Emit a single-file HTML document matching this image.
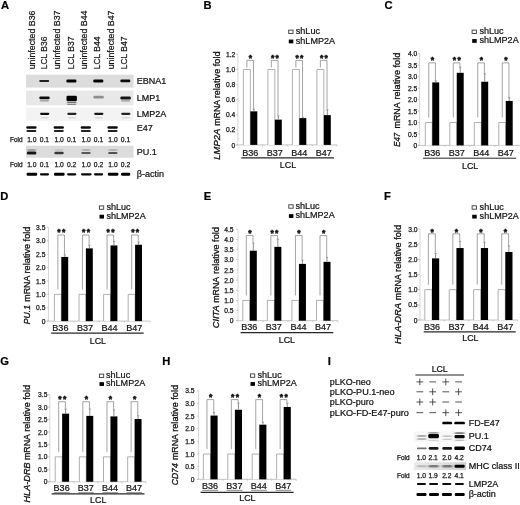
<!DOCTYPE html>
<html><head><meta charset="utf-8"><title>Figure</title>
<style>
html,body{margin:0;padding:0;background:#fff;}
body{width:520px;height:505px;overflow:hidden;font-family:"Liberation Sans",sans-serif;}
svg{display:block;font-family:"Liberation Sans",sans-serif;filter:blur(0.3px);}
svg text{stroke:#111;stroke-width:0.22px;}
svg text.sm{stroke-width:0.25px;}
svg text.yt{stroke-width:0.3px;}
svg text.st{stroke-width:0.5px;stroke-linejoin:round;}
</style></head><body>
<svg width="520" height="505" viewBox="0 0 520 505">
<rect x="0" y="0" width="520" height="505" fill="#fff"/>
<defs>
<filter id="b1" x="-30%" y="-150%" width="160%" height="400%"><feGaussianBlur stdDeviation="0.65 0.65"/></filter>
<filter id="b2" x="-30%" y="-150%" width="160%" height="400%"><feGaussianBlur stdDeviation="0.8 0.65"/></filter>
</defs>
<rect x="288.70" y="30.10" width="4.30" height="3.40" fill="#fff" stroke="#3a3a3a" stroke-width="0.9" />
<rect x="288.80" y="39.55" width="4.50" height="3.80" fill="#000" stroke="none" stroke-width="0.6" />
<text x="295.80" y="34.00" font-size="9.3" text-anchor="start" font-weight="normal" font-style="normal" fill="#111" textLength="24.2" lengthAdjust="spacingAndGlyphs">shLuc</text>
<text x="295.80" y="43.80" font-size="9.3" text-anchor="start" font-weight="normal" font-style="normal" fill="#111" textLength="39.3" lengthAdjust="spacingAndGlyphs">shLMP2A</text>
<line x1="237.90" y1="54.40" x2="237.90" y2="144.90" stroke="#cdcdcd" stroke-width="0.8"/>
<line x1="236.10" y1="144.90" x2="337.00" y2="144.90" stroke="#b4b4b4" stroke-width="0.8"/>
<line x1="236.10" y1="144.90" x2="237.90" y2="144.90" stroke="#b4b4b4" stroke-width="0.7"/>
<text class="sm" x="235.20" y="147.50" font-size="6.7" text-anchor="end" font-weight="normal" font-style="normal" fill="#181818" >0</text>
<line x1="236.10" y1="129.82" x2="237.90" y2="129.82" stroke="#b4b4b4" stroke-width="0.7"/>
<text class="sm" x="235.20" y="132.42" font-size="6.7" text-anchor="end" font-weight="normal" font-style="normal" fill="#181818" >0.2</text>
<line x1="236.10" y1="114.73" x2="237.90" y2="114.73" stroke="#b4b4b4" stroke-width="0.7"/>
<text class="sm" x="235.20" y="117.33" font-size="6.7" text-anchor="end" font-weight="normal" font-style="normal" fill="#181818" >0.4</text>
<line x1="236.10" y1="99.65" x2="237.90" y2="99.65" stroke="#b4b4b4" stroke-width="0.7"/>
<text class="sm" x="235.20" y="102.25" font-size="6.7" text-anchor="end" font-weight="normal" font-style="normal" fill="#181818" >0.6</text>
<line x1="236.10" y1="84.57" x2="237.90" y2="84.57" stroke="#b4b4b4" stroke-width="0.7"/>
<text class="sm" x="235.20" y="87.17" font-size="6.7" text-anchor="end" font-weight="normal" font-style="normal" fill="#181818" >0.8</text>
<line x1="236.10" y1="69.48" x2="237.90" y2="69.48" stroke="#b4b4b4" stroke-width="0.7"/>
<text class="sm" x="235.20" y="72.08" font-size="6.7" text-anchor="end" font-weight="normal" font-style="normal" fill="#181818" >1.0</text>
<line x1="236.10" y1="54.40" x2="237.90" y2="54.40" stroke="#b4b4b4" stroke-width="0.7"/>
<text class="sm" x="235.20" y="57.00" font-size="6.7" text-anchor="end" font-weight="normal" font-style="normal" fill="#181818" >1.2</text>
<line x1="262.68" y1="144.90" x2="262.68" y2="146.40" stroke="#b4b4b4" stroke-width="0.7"/>
<line x1="287.45" y1="144.90" x2="287.45" y2="146.40" stroke="#b4b4b4" stroke-width="0.7"/>
<line x1="312.23" y1="144.90" x2="312.23" y2="146.40" stroke="#b4b4b4" stroke-width="0.7"/>
<line x1="337.00" y1="144.90" x2="337.00" y2="146.40" stroke="#b4b4b4" stroke-width="0.7"/>
<path d="M243.40,144.90 V69.48 H250.35 V144.90" fill="#fff" stroke="#9c9c9c" stroke-width="0.8"/>
<rect x="250.35" y="111.34" width="6.95" height="33.56" fill="#000" stroke="none" stroke-width="0.6" />
<line x1="253.83" y1="111.34" x2="253.83" y2="109.08" stroke="#666" stroke-width="0.75"/>
<line x1="252.73" y1="109.08" x2="254.93" y2="109.08" stroke="#777" stroke-width="0.7"/>
<polyline points="246.88,67.48 246.88,60.40 253.53,60.40 253.53,108.58" fill="none" stroke="#7d7d7d" stroke-width="0.7"/>
<text x="250.40" y="60.50" font-size="8.5" text-anchor="middle" font-weight="bold" font-style="normal" fill="#111" class="st">*</text>
<text x="250.35" y="155.60" font-size="9.2" text-anchor="middle" font-weight="normal" font-style="normal" fill="#111" textLength="16.1" lengthAdjust="spacingAndGlyphs">B36</text>
<path d="M267.90,144.90 V69.48 H274.85 V144.90" fill="#fff" stroke="#9c9c9c" stroke-width="0.8"/>
<rect x="274.85" y="119.64" width="6.95" height="25.26" fill="#000" stroke="none" stroke-width="0.6" />
<line x1="278.32" y1="119.64" x2="278.32" y2="115.86" stroke="#666" stroke-width="0.75"/>
<line x1="277.22" y1="115.86" x2="279.43" y2="115.86" stroke="#777" stroke-width="0.7"/>
<polyline points="271.38,67.48 271.38,60.40 278.02,60.40 278.02,115.36" fill="none" stroke="#7d7d7d" stroke-width="0.7"/>
<text x="275.60" y="60.50" font-size="8.5" text-anchor="middle" font-weight="bold" font-style="normal" fill="#111" class="st" letter-spacing="1.4">**</text>
<text x="274.85" y="155.60" font-size="9.2" text-anchor="middle" font-weight="normal" font-style="normal" fill="#111" textLength="16.1" lengthAdjust="spacingAndGlyphs">B37</text>
<path d="M292.40,144.90 V69.48 H299.35 V144.90" fill="#fff" stroke="#9c9c9c" stroke-width="0.8"/>
<rect x="299.35" y="118.13" width="6.95" height="26.77" fill="#000" stroke="none" stroke-width="0.6" />
<line x1="302.82" y1="118.13" x2="302.82" y2="117.22" stroke="#666" stroke-width="0.75"/>
<line x1="301.72" y1="117.22" x2="303.93" y2="117.22" stroke="#777" stroke-width="0.7"/>
<polyline points="295.88,67.48 295.88,60.40 302.52,60.40 302.52,116.72" fill="none" stroke="#7d7d7d" stroke-width="0.7"/>
<text x="300.10" y="60.50" font-size="8.5" text-anchor="middle" font-weight="bold" font-style="normal" fill="#111" class="st" letter-spacing="1.4">**</text>
<text x="299.35" y="155.60" font-size="9.2" text-anchor="middle" font-weight="normal" font-style="normal" fill="#111" textLength="16.1" lengthAdjust="spacingAndGlyphs">B44</text>
<path d="M316.90,144.90 V69.48 H323.85 V144.90" fill="#fff" stroke="#9c9c9c" stroke-width="0.8"/>
<rect x="323.85" y="115.11" width="6.95" height="29.79" fill="#000" stroke="none" stroke-width="0.6" />
<line x1="327.32" y1="115.11" x2="327.32" y2="109.83" stroke="#666" stroke-width="0.75"/>
<line x1="326.22" y1="109.83" x2="328.43" y2="109.83" stroke="#777" stroke-width="0.7"/>
<polyline points="320.38,67.48 320.38,60.40 327.02,60.40 327.02,109.33" fill="none" stroke="#7d7d7d" stroke-width="0.7"/>
<text x="324.60" y="60.50" font-size="8.5" text-anchor="middle" font-weight="bold" font-style="normal" fill="#111" class="st" letter-spacing="1.4">**</text>
<text x="323.85" y="155.60" font-size="9.2" text-anchor="middle" font-weight="normal" font-style="normal" fill="#111" textLength="16.1" lengthAdjust="spacingAndGlyphs">B47</text>
<line x1="241.30" y1="157.90" x2="334.00" y2="157.90" stroke="#262626" stroke-width="1.35"/>
<text x="288.00" y="168.40" font-size="9.2" text-anchor="middle" font-weight="normal" font-style="normal" fill="#111" textLength="16.3" lengthAdjust="spacingAndGlyphs">LCL</text>
<text class="yt" transform="translate(220.40,128.75) rotate(-90)" font-size="9.2" text-anchor="end" fill="#111" font-style="italic" textLength="31.0" lengthAdjust="spacingAndGlyphs">LMP2A</text>
<text class="yt" transform="translate(220.40,125.85) rotate(-90)" font-size="9.2" text-anchor="start" fill="#111" textLength="26.0" lengthAdjust="spacingAndGlyphs">mRNA</text>
<text class="yt" transform="translate(220.40,98.35) rotate(-90)" font-size="9.2" text-anchor="start" fill="#111" >relative</text>
<text class="yt" transform="translate(220.40,66.25) rotate(-90)" font-size="9.2" text-anchor="start" fill="#111" >fold</text>
<text x="203.50" y="8.80" font-size="11.2" text-anchor="start" font-weight="bold" font-style="normal" fill="#000" >B</text>
<rect x="472.10" y="30.10" width="4.30" height="3.40" fill="#fff" stroke="#3a3a3a" stroke-width="0.9" />
<rect x="472.20" y="39.05" width="4.50" height="3.80" fill="#000" stroke="none" stroke-width="0.6" />
<text x="479.40" y="34.00" font-size="9.3" text-anchor="start" font-weight="normal" font-style="normal" fill="#111" textLength="24.2" lengthAdjust="spacingAndGlyphs">shLuc</text>
<text x="479.40" y="43.30" font-size="9.3" text-anchor="start" font-weight="normal" font-style="normal" fill="#111" textLength="39.3" lengthAdjust="spacingAndGlyphs">shLMP2A</text>
<line x1="419.60" y1="53.80" x2="419.60" y2="145.40" stroke="#cdcdcd" stroke-width="0.8"/>
<line x1="417.80" y1="145.40" x2="520.00" y2="145.40" stroke="#b4b4b4" stroke-width="0.8"/>
<line x1="417.80" y1="145.40" x2="419.60" y2="145.40" stroke="#b4b4b4" stroke-width="0.7"/>
<text class="sm" x="417.20" y="148.00" font-size="6.7" text-anchor="end" font-weight="normal" font-style="normal" fill="#181818" >0</text>
<line x1="417.80" y1="133.95" x2="419.60" y2="133.95" stroke="#b4b4b4" stroke-width="0.7"/>
<text class="sm" x="417.20" y="136.55" font-size="6.7" text-anchor="end" font-weight="normal" font-style="normal" fill="#181818" >0.5</text>
<line x1="417.80" y1="122.50" x2="419.60" y2="122.50" stroke="#b4b4b4" stroke-width="0.7"/>
<text class="sm" x="417.20" y="125.10" font-size="6.7" text-anchor="end" font-weight="normal" font-style="normal" fill="#181818" >1.0</text>
<line x1="417.80" y1="111.05" x2="419.60" y2="111.05" stroke="#b4b4b4" stroke-width="0.7"/>
<text class="sm" x="417.20" y="113.65" font-size="6.7" text-anchor="end" font-weight="normal" font-style="normal" fill="#181818" >1.5</text>
<line x1="417.80" y1="99.60" x2="419.60" y2="99.60" stroke="#b4b4b4" stroke-width="0.7"/>
<text class="sm" x="417.20" y="102.20" font-size="6.7" text-anchor="end" font-weight="normal" font-style="normal" fill="#181818" >2.0</text>
<line x1="417.80" y1="88.15" x2="419.60" y2="88.15" stroke="#b4b4b4" stroke-width="0.7"/>
<text class="sm" x="417.20" y="90.75" font-size="6.7" text-anchor="end" font-weight="normal" font-style="normal" fill="#181818" >2.5</text>
<line x1="417.80" y1="76.70" x2="419.60" y2="76.70" stroke="#b4b4b4" stroke-width="0.7"/>
<text class="sm" x="417.20" y="79.30" font-size="6.7" text-anchor="end" font-weight="normal" font-style="normal" fill="#181818" >3.0</text>
<line x1="417.80" y1="65.25" x2="419.60" y2="65.25" stroke="#b4b4b4" stroke-width="0.7"/>
<text class="sm" x="417.20" y="67.85" font-size="6.7" text-anchor="end" font-weight="normal" font-style="normal" fill="#181818" >3.5</text>
<line x1="417.80" y1="53.80" x2="419.60" y2="53.80" stroke="#b4b4b4" stroke-width="0.7"/>
<text class="sm" x="417.20" y="56.40" font-size="6.7" text-anchor="end" font-weight="normal" font-style="normal" fill="#181818" >4.0</text>
<line x1="444.70" y1="145.40" x2="444.70" y2="146.90" stroke="#b4b4b4" stroke-width="0.7"/>
<line x1="469.80" y1="145.40" x2="469.80" y2="146.90" stroke="#b4b4b4" stroke-width="0.7"/>
<line x1="494.90" y1="145.40" x2="494.90" y2="146.90" stroke="#b4b4b4" stroke-width="0.7"/>
<path d="M425.30,145.40 V122.50 H432.25 V145.40" fill="#fff" stroke="#9c9c9c" stroke-width="0.8"/>
<rect x="432.25" y="82.42" width="6.95" height="62.98" fill="#000" stroke="none" stroke-width="0.6" />
<line x1="435.73" y1="82.42" x2="435.73" y2="80.82" stroke="#666" stroke-width="0.75"/>
<line x1="434.62" y1="80.82" x2="436.83" y2="80.82" stroke="#777" stroke-width="0.7"/>
<polyline points="428.78,117.50 428.78,62.90 435.43,62.90 435.43,80.32" fill="none" stroke="#7d7d7d" stroke-width="0.7"/>
<text x="432.30" y="62.65" font-size="8.5" text-anchor="middle" font-weight="bold" font-style="normal" fill="#111" class="st">*</text>
<text x="432.25" y="155.90" font-size="9.2" text-anchor="middle" font-weight="normal" font-style="normal" fill="#111" textLength="16.1" lengthAdjust="spacingAndGlyphs">B36</text>
<path d="M449.80,145.40 V122.50 H456.75 V145.40" fill="#fff" stroke="#9c9c9c" stroke-width="0.8"/>
<rect x="456.75" y="72.81" width="6.95" height="72.59" fill="#000" stroke="none" stroke-width="0.6" />
<line x1="460.23" y1="72.81" x2="460.23" y2="67.08" stroke="#666" stroke-width="0.75"/>
<line x1="459.12" y1="67.08" x2="461.33" y2="67.08" stroke="#777" stroke-width="0.7"/>
<polyline points="453.28,117.50 453.28,62.90 459.93,62.90 459.93,66.58" fill="none" stroke="#7d7d7d" stroke-width="0.7"/>
<text x="457.50" y="62.65" font-size="8.5" text-anchor="middle" font-weight="bold" font-style="normal" fill="#111" class="st" letter-spacing="1.4">**</text>
<text x="456.75" y="155.90" font-size="9.2" text-anchor="middle" font-weight="normal" font-style="normal" fill="#111" textLength="16.1" lengthAdjust="spacingAndGlyphs">B37</text>
<path d="M474.30,145.40 V122.50 H481.25 V145.40" fill="#fff" stroke="#9c9c9c" stroke-width="0.8"/>
<rect x="481.25" y="81.74" width="6.95" height="63.66" fill="#000" stroke="none" stroke-width="0.6" />
<line x1="484.73" y1="81.74" x2="484.73" y2="73.72" stroke="#666" stroke-width="0.75"/>
<line x1="483.62" y1="73.72" x2="485.83" y2="73.72" stroke="#777" stroke-width="0.7"/>
<polyline points="477.78,117.50 477.78,62.90 484.43,62.90 484.43,73.22" fill="none" stroke="#7d7d7d" stroke-width="0.7"/>
<text x="481.30" y="62.65" font-size="8.5" text-anchor="middle" font-weight="bold" font-style="normal" fill="#111" class="st">*</text>
<text x="481.25" y="155.90" font-size="9.2" text-anchor="middle" font-weight="normal" font-style="normal" fill="#111" textLength="16.1" lengthAdjust="spacingAndGlyphs">B44</text>
<path d="M498.80,145.40 V122.50 H505.75 V145.40" fill="#fff" stroke="#9c9c9c" stroke-width="0.8"/>
<rect x="505.75" y="100.97" width="6.95" height="44.43" fill="#000" stroke="none" stroke-width="0.6" />
<line x1="509.23" y1="100.97" x2="509.23" y2="97.54" stroke="#666" stroke-width="0.75"/>
<line x1="508.12" y1="97.54" x2="510.33" y2="97.54" stroke="#777" stroke-width="0.7"/>
<polyline points="502.28,117.50 502.28,62.90 508.93,62.90 508.93,97.04" fill="none" stroke="#7d7d7d" stroke-width="0.7"/>
<text x="505.80" y="62.65" font-size="8.5" text-anchor="middle" font-weight="bold" font-style="normal" fill="#111" class="st">*</text>
<text x="505.75" y="155.90" font-size="9.2" text-anchor="middle" font-weight="normal" font-style="normal" fill="#111" textLength="16.1" lengthAdjust="spacingAndGlyphs">B47</text>
<line x1="423.00" y1="158.20" x2="516.20" y2="158.20" stroke="#262626" stroke-width="1.0"/>
<text x="470.10" y="168.60" font-size="9.2" text-anchor="middle" font-weight="normal" font-style="normal" fill="#111" textLength="16.3" lengthAdjust="spacingAndGlyphs">LCL</text>
<text class="yt" transform="translate(399.80,132.90) rotate(-90)" font-size="9.2" text-anchor="end" fill="#111" font-style="italic" textLength="13.9" lengthAdjust="spacingAndGlyphs">E47</text>
<text class="yt" transform="translate(399.80,128.40) rotate(-90)" font-size="9.2" text-anchor="start" fill="#111" textLength="26.0" lengthAdjust="spacingAndGlyphs">mRNA</text>
<text class="yt" transform="translate(399.80,99.60) rotate(-90)" font-size="9.2" text-anchor="start" fill="#111" >relative</text>
<text class="yt" transform="translate(399.80,67.50) rotate(-90)" font-size="9.2" text-anchor="start" fill="#111" >fold</text>
<text x="384.50" y="8.80" font-size="11.2" text-anchor="start" font-weight="bold" font-style="normal" fill="#000" >C</text>
<rect x="99.40" y="205.90" width="4.30" height="3.40" fill="#fff" stroke="#3a3a3a" stroke-width="0.9" />
<rect x="99.50" y="214.75" width="4.50" height="3.80" fill="#000" stroke="none" stroke-width="0.6" />
<text x="106.40" y="209.80" font-size="9.3" text-anchor="start" font-weight="normal" font-style="normal" fill="#111" textLength="24.2" lengthAdjust="spacingAndGlyphs">shLuc</text>
<text x="106.40" y="219.00" font-size="9.3" text-anchor="start" font-weight="normal" font-style="normal" fill="#111" textLength="39.3" lengthAdjust="spacingAndGlyphs">shLMP2A</text>
<line x1="48.50" y1="227.50" x2="48.50" y2="321.10" stroke="#cdcdcd" stroke-width="0.8"/>
<line x1="46.70" y1="321.10" x2="149.80" y2="321.10" stroke="#b4b4b4" stroke-width="0.8"/>
<line x1="46.70" y1="321.10" x2="48.50" y2="321.10" stroke="#b4b4b4" stroke-width="0.7"/>
<text class="sm" x="45.40" y="323.70" font-size="6.7" text-anchor="end" font-weight="normal" font-style="normal" fill="#181818" >0</text>
<line x1="46.70" y1="307.73" x2="48.50" y2="307.73" stroke="#b4b4b4" stroke-width="0.7"/>
<text class="sm" x="45.40" y="310.33" font-size="6.7" text-anchor="end" font-weight="normal" font-style="normal" fill="#181818" >0.5</text>
<line x1="46.70" y1="294.36" x2="48.50" y2="294.36" stroke="#b4b4b4" stroke-width="0.7"/>
<text class="sm" x="45.40" y="296.96" font-size="6.7" text-anchor="end" font-weight="normal" font-style="normal" fill="#181818" >1.0</text>
<line x1="46.70" y1="280.99" x2="48.50" y2="280.99" stroke="#b4b4b4" stroke-width="0.7"/>
<text class="sm" x="45.40" y="283.59" font-size="6.7" text-anchor="end" font-weight="normal" font-style="normal" fill="#181818" >1.5</text>
<line x1="46.70" y1="267.61" x2="48.50" y2="267.61" stroke="#b4b4b4" stroke-width="0.7"/>
<text class="sm" x="45.40" y="270.21" font-size="6.7" text-anchor="end" font-weight="normal" font-style="normal" fill="#181818" >2.0</text>
<line x1="46.70" y1="254.24" x2="48.50" y2="254.24" stroke="#b4b4b4" stroke-width="0.7"/>
<text class="sm" x="45.40" y="256.84" font-size="6.7" text-anchor="end" font-weight="normal" font-style="normal" fill="#181818" >2.5</text>
<line x1="46.70" y1="240.87" x2="48.50" y2="240.87" stroke="#b4b4b4" stroke-width="0.7"/>
<text class="sm" x="45.40" y="243.47" font-size="6.7" text-anchor="end" font-weight="normal" font-style="normal" fill="#181818" >3.0</text>
<line x1="46.70" y1="227.50" x2="48.50" y2="227.50" stroke="#b4b4b4" stroke-width="0.7"/>
<text class="sm" x="45.40" y="230.10" font-size="6.7" text-anchor="end" font-weight="normal" font-style="normal" fill="#181818" >3.5</text>
<line x1="73.83" y1="321.10" x2="73.83" y2="322.60" stroke="#b4b4b4" stroke-width="0.7"/>
<line x1="99.15" y1="321.10" x2="99.15" y2="322.60" stroke="#b4b4b4" stroke-width="0.7"/>
<line x1="124.48" y1="321.10" x2="124.48" y2="322.60" stroke="#b4b4b4" stroke-width="0.7"/>
<line x1="149.80" y1="321.10" x2="149.80" y2="322.60" stroke="#b4b4b4" stroke-width="0.7"/>
<path d="M54.40,321.10 V294.36 H61.30 V321.10" fill="#fff" stroke="#9c9c9c" stroke-width="0.8"/>
<rect x="61.30" y="256.92" width="6.90" height="64.18" fill="#000" stroke="none" stroke-width="0.6" />
<line x1="64.75" y1="256.92" x2="64.75" y2="254.78" stroke="#666" stroke-width="0.75"/>
<line x1="63.65" y1="254.78" x2="65.85" y2="254.78" stroke="#777" stroke-width="0.7"/>
<polyline points="57.85,289.36 57.85,235.00 64.45,235.00 64.45,254.28" fill="none" stroke="#7d7d7d" stroke-width="0.7"/>
<text x="62.05" y="235.10" font-size="8.5" text-anchor="middle" font-weight="bold" font-style="normal" fill="#111" class="st" letter-spacing="1.4">**</text>
<text x="60.40" y="330.50" font-size="9.2" text-anchor="middle" font-weight="normal" font-style="normal" fill="#111" textLength="16.1" lengthAdjust="spacingAndGlyphs">B36</text>
<path d="M79.00,321.10 V294.36 H85.90 V321.10" fill="#fff" stroke="#9c9c9c" stroke-width="0.8"/>
<rect x="85.90" y="248.36" width="6.90" height="72.74" fill="#000" stroke="none" stroke-width="0.6" />
<line x1="89.35" y1="248.36" x2="89.35" y2="245.15" stroke="#666" stroke-width="0.75"/>
<line x1="88.25" y1="245.15" x2="90.45" y2="245.15" stroke="#777" stroke-width="0.7"/>
<polyline points="82.45,289.36 82.45,235.00 89.05,235.00 89.05,244.65" fill="none" stroke="#7d7d7d" stroke-width="0.7"/>
<text x="86.65" y="235.10" font-size="8.5" text-anchor="middle" font-weight="bold" font-style="normal" fill="#111" class="st" letter-spacing="1.4">**</text>
<text x="85.00" y="330.50" font-size="9.2" text-anchor="middle" font-weight="normal" font-style="normal" fill="#111" textLength="16.1" lengthAdjust="spacingAndGlyphs">B37</text>
<path d="M103.60,321.10 V294.36 H110.50 V321.10" fill="#fff" stroke="#9c9c9c" stroke-width="0.8"/>
<rect x="110.50" y="245.42" width="6.90" height="75.68" fill="#000" stroke="none" stroke-width="0.6" />
<line x1="113.95" y1="245.42" x2="113.95" y2="241.41" stroke="#666" stroke-width="0.75"/>
<line x1="112.85" y1="241.41" x2="115.05" y2="241.41" stroke="#777" stroke-width="0.7"/>
<polyline points="107.05,289.36 107.05,235.00 113.65,235.00 113.65,240.91" fill="none" stroke="#7d7d7d" stroke-width="0.7"/>
<text x="111.25" y="235.10" font-size="8.5" text-anchor="middle" font-weight="bold" font-style="normal" fill="#111" class="st" letter-spacing="1.4">**</text>
<text x="109.60" y="330.50" font-size="9.2" text-anchor="middle" font-weight="normal" font-style="normal" fill="#111" textLength="16.1" lengthAdjust="spacingAndGlyphs">B44</text>
<path d="M128.20,321.10 V294.36 H135.10 V321.10" fill="#fff" stroke="#9c9c9c" stroke-width="0.8"/>
<rect x="135.10" y="244.75" width="6.90" height="76.35" fill="#000" stroke="none" stroke-width="0.6" />
<line x1="138.55" y1="244.75" x2="138.55" y2="242.07" stroke="#666" stroke-width="0.75"/>
<line x1="137.45" y1="242.07" x2="139.65" y2="242.07" stroke="#777" stroke-width="0.7"/>
<polyline points="131.65,289.36 131.65,235.00 138.25,235.00 138.25,241.57" fill="none" stroke="#7d7d7d" stroke-width="0.7"/>
<text x="135.85" y="235.10" font-size="8.5" text-anchor="middle" font-weight="bold" font-style="normal" fill="#111" class="st" letter-spacing="1.4">**</text>
<text x="134.20" y="330.50" font-size="9.2" text-anchor="middle" font-weight="normal" font-style="normal" fill="#111" textLength="16.1" lengthAdjust="spacingAndGlyphs">B47</text>
<line x1="51.20" y1="333.10" x2="143.70" y2="333.10" stroke="#262626" stroke-width="1.35"/>
<text x="97.90" y="343.60" font-size="9.2" text-anchor="middle" font-weight="normal" font-style="normal" fill="#111" textLength="16.3" lengthAdjust="spacingAndGlyphs">LCL</text>
<text class="yt" transform="translate(29.50,305.00) rotate(-90)" font-size="9.2" text-anchor="end" fill="#111" font-style="italic" textLength="19.3" lengthAdjust="spacingAndGlyphs">PU.1</text>
<text class="yt" transform="translate(29.50,301.70) rotate(-90)" font-size="9.2" text-anchor="start" fill="#111" textLength="26.0" lengthAdjust="spacingAndGlyphs">mRNA</text>
<text class="yt" transform="translate(29.50,273.50) rotate(-90)" font-size="9.2" text-anchor="start" fill="#111" >relative</text>
<text class="yt" transform="translate(29.50,241.40) rotate(-90)" font-size="9.2" text-anchor="start" fill="#111" >fold</text>
<text x="0.30" y="200.10" font-size="11.2" text-anchor="start" font-weight="bold" font-style="normal" fill="#000" >D</text>
<rect x="288.80" y="204.80" width="4.30" height="3.40" fill="#fff" stroke="#3a3a3a" stroke-width="0.9" />
<rect x="288.90" y="214.15" width="4.50" height="3.80" fill="#000" stroke="none" stroke-width="0.6" />
<text x="295.40" y="208.70" font-size="9.3" text-anchor="start" font-weight="normal" font-style="normal" fill="#111" textLength="24.2" lengthAdjust="spacingAndGlyphs">shLuc</text>
<text x="295.40" y="218.40" font-size="9.3" text-anchor="start" font-weight="normal" font-style="normal" fill="#111" textLength="39.3" lengthAdjust="spacingAndGlyphs">shLMP2A</text>
<line x1="238.00" y1="229.40" x2="238.00" y2="320.70" stroke="#cdcdcd" stroke-width="0.8"/>
<line x1="236.20" y1="320.70" x2="337.70" y2="320.70" stroke="#b4b4b4" stroke-width="0.8"/>
<line x1="236.20" y1="320.70" x2="238.00" y2="320.70" stroke="#b4b4b4" stroke-width="0.7"/>
<text class="sm" x="233.50" y="323.30" font-size="6.7" text-anchor="end" font-weight="normal" font-style="normal" fill="#181818" >0</text>
<line x1="236.20" y1="310.56" x2="238.00" y2="310.56" stroke="#b4b4b4" stroke-width="0.7"/>
<text class="sm" x="233.50" y="313.16" font-size="6.7" text-anchor="end" font-weight="normal" font-style="normal" fill="#181818" >0.5</text>
<line x1="236.20" y1="300.41" x2="238.00" y2="300.41" stroke="#b4b4b4" stroke-width="0.7"/>
<text class="sm" x="233.50" y="303.01" font-size="6.7" text-anchor="end" font-weight="normal" font-style="normal" fill="#181818" >1.0</text>
<line x1="236.20" y1="290.27" x2="238.00" y2="290.27" stroke="#b4b4b4" stroke-width="0.7"/>
<text class="sm" x="233.50" y="292.87" font-size="6.7" text-anchor="end" font-weight="normal" font-style="normal" fill="#181818" >1.5</text>
<line x1="236.20" y1="280.12" x2="238.00" y2="280.12" stroke="#b4b4b4" stroke-width="0.7"/>
<text class="sm" x="233.50" y="282.72" font-size="6.7" text-anchor="end" font-weight="normal" font-style="normal" fill="#181818" >2.0</text>
<line x1="236.20" y1="269.98" x2="238.00" y2="269.98" stroke="#b4b4b4" stroke-width="0.7"/>
<text class="sm" x="233.50" y="272.58" font-size="6.7" text-anchor="end" font-weight="normal" font-style="normal" fill="#181818" >2.5</text>
<line x1="236.20" y1="259.83" x2="238.00" y2="259.83" stroke="#b4b4b4" stroke-width="0.7"/>
<text class="sm" x="233.50" y="262.43" font-size="6.7" text-anchor="end" font-weight="normal" font-style="normal" fill="#181818" >3.0</text>
<line x1="236.20" y1="249.69" x2="238.00" y2="249.69" stroke="#b4b4b4" stroke-width="0.7"/>
<text class="sm" x="233.50" y="252.29" font-size="6.7" text-anchor="end" font-weight="normal" font-style="normal" fill="#181818" >3.5</text>
<line x1="236.20" y1="239.54" x2="238.00" y2="239.54" stroke="#b4b4b4" stroke-width="0.7"/>
<text class="sm" x="233.50" y="242.14" font-size="6.7" text-anchor="end" font-weight="normal" font-style="normal" fill="#181818" >4.0</text>
<line x1="236.20" y1="229.40" x2="238.00" y2="229.40" stroke="#b4b4b4" stroke-width="0.7"/>
<text class="sm" x="233.50" y="232.00" font-size="6.7" text-anchor="end" font-weight="normal" font-style="normal" fill="#181818" >4.5</text>
<line x1="262.93" y1="320.70" x2="262.93" y2="322.20" stroke="#b4b4b4" stroke-width="0.7"/>
<line x1="287.85" y1="320.70" x2="287.85" y2="322.20" stroke="#b4b4b4" stroke-width="0.7"/>
<line x1="312.77" y1="320.70" x2="312.77" y2="322.20" stroke="#b4b4b4" stroke-width="0.7"/>
<line x1="337.70" y1="320.70" x2="337.70" y2="322.20" stroke="#b4b4b4" stroke-width="0.7"/>
<path d="M242.80,320.70 V300.41 H249.80 V320.70" fill="#fff" stroke="#9c9c9c" stroke-width="0.8"/>
<rect x="249.80" y="250.70" width="7.00" height="70.00" fill="#000" stroke="none" stroke-width="0.6" />
<line x1="253.30" y1="250.70" x2="253.30" y2="242.99" stroke="#666" stroke-width="0.75"/>
<line x1="252.20" y1="242.99" x2="254.40" y2="242.99" stroke="#777" stroke-width="0.7"/>
<polyline points="246.30,295.41 246.30,235.60 253.00,235.60 253.00,242.49" fill="none" stroke="#7d7d7d" stroke-width="0.7"/>
<text x="249.85" y="236.00" font-size="8.5" text-anchor="middle" font-weight="bold" font-style="normal" fill="#111" class="st">*</text>
<text x="249.30" y="330.00" font-size="9.2" text-anchor="middle" font-weight="normal" font-style="normal" fill="#111" textLength="16.1" lengthAdjust="spacingAndGlyphs">B36</text>
<path d="M267.37,320.70 V300.41 H274.37 V320.70" fill="#fff" stroke="#9c9c9c" stroke-width="0.8"/>
<rect x="274.37" y="246.85" width="7.00" height="73.85" fill="#000" stroke="none" stroke-width="0.6" />
<line x1="277.87" y1="246.85" x2="277.87" y2="239.14" stroke="#666" stroke-width="0.75"/>
<line x1="276.77" y1="239.14" x2="278.97" y2="239.14" stroke="#777" stroke-width="0.7"/>
<polyline points="270.87,295.41 270.87,235.60 277.57,235.60 277.57,238.64" fill="none" stroke="#7d7d7d" stroke-width="0.7"/>
<text x="275.12" y="236.00" font-size="8.5" text-anchor="middle" font-weight="bold" font-style="normal" fill="#111" class="st" letter-spacing="1.4">**</text>
<text x="273.87" y="330.00" font-size="9.2" text-anchor="middle" font-weight="normal" font-style="normal" fill="#111" textLength="16.1" lengthAdjust="spacingAndGlyphs">B37</text>
<path d="M291.94,320.70 V300.41 H298.94 V320.70" fill="#fff" stroke="#9c9c9c" stroke-width="0.8"/>
<rect x="298.94" y="263.89" width="7.00" height="56.81" fill="#000" stroke="none" stroke-width="0.6" />
<line x1="302.44" y1="263.89" x2="302.44" y2="260.04" stroke="#666" stroke-width="0.75"/>
<line x1="301.34" y1="260.04" x2="303.54" y2="260.04" stroke="#777" stroke-width="0.7"/>
<polyline points="295.44,295.41 295.44,235.60 302.14,235.60 302.14,259.54" fill="none" stroke="#7d7d7d" stroke-width="0.7"/>
<text x="298.99" y="236.00" font-size="8.5" text-anchor="middle" font-weight="bold" font-style="normal" fill="#111" class="st">*</text>
<text x="298.44" y="330.00" font-size="9.2" text-anchor="middle" font-weight="normal" font-style="normal" fill="#111" textLength="16.1" lengthAdjust="spacingAndGlyphs">B44</text>
<path d="M316.51,320.70 V300.41 H323.51 V320.70" fill="#fff" stroke="#9c9c9c" stroke-width="0.8"/>
<rect x="323.51" y="261.86" width="7.00" height="58.84" fill="#000" stroke="none" stroke-width="0.6" />
<line x1="327.01" y1="261.86" x2="327.01" y2="257.40" stroke="#666" stroke-width="0.75"/>
<line x1="325.91" y1="257.40" x2="328.11" y2="257.40" stroke="#777" stroke-width="0.7"/>
<polyline points="320.01,295.41 320.01,235.60 326.71,235.60 326.71,256.90" fill="none" stroke="#7d7d7d" stroke-width="0.7"/>
<text x="323.56" y="236.00" font-size="8.5" text-anchor="middle" font-weight="bold" font-style="normal" fill="#111" class="st">*</text>
<text x="323.01" y="330.00" font-size="9.2" text-anchor="middle" font-weight="normal" font-style="normal" fill="#111" textLength="16.1" lengthAdjust="spacingAndGlyphs">B47</text>
<line x1="240.60" y1="332.60" x2="333.30" y2="332.60" stroke="#262626" stroke-width="1.35"/>
<text x="286.90" y="343.10" font-size="9.2" text-anchor="middle" font-weight="normal" font-style="normal" fill="#111" textLength="16.3" lengthAdjust="spacingAndGlyphs">LCL</text>
<text class="yt" transform="translate(219.30,305.40) rotate(-90)" font-size="9.2" text-anchor="end" fill="#111" font-style="italic">CIITA</text>
<text class="yt" transform="translate(219.30,302.80) rotate(-90)" font-size="9.2" text-anchor="start" fill="#111" textLength="26.0" lengthAdjust="spacingAndGlyphs">mRNA</text>
<text class="yt" transform="translate(219.30,274.00) rotate(-90)" font-size="9.2" text-anchor="start" fill="#111" >relative</text>
<text class="yt" transform="translate(219.30,241.90) rotate(-90)" font-size="9.2" text-anchor="start" fill="#111" >fold</text>
<text x="203.80" y="200.10" font-size="11.2" text-anchor="start" font-weight="bold" font-style="normal" fill="#000" >E</text>
<rect x="472.10" y="205.80" width="4.30" height="3.40" fill="#fff" stroke="#3a3a3a" stroke-width="0.9" />
<rect x="472.20" y="214.75" width="4.50" height="3.80" fill="#000" stroke="none" stroke-width="0.6" />
<text x="479.60" y="209.70" font-size="9.3" text-anchor="start" font-weight="normal" font-style="normal" fill="#111" textLength="24.2" lengthAdjust="spacingAndGlyphs">shLuc</text>
<text x="479.60" y="219.00" font-size="9.3" text-anchor="start" font-weight="normal" font-style="normal" fill="#111" textLength="39.3" lengthAdjust="spacingAndGlyphs">shLMP2A</text>
<line x1="420.00" y1="228.90" x2="420.00" y2="320.00" stroke="#cdcdcd" stroke-width="0.8"/>
<line x1="418.20" y1="320.00" x2="517.70" y2="320.00" stroke="#b4b4b4" stroke-width="0.8"/>
<line x1="418.20" y1="320.00" x2="420.00" y2="320.00" stroke="#b4b4b4" stroke-width="0.7"/>
<text class="sm" x="417.50" y="322.60" font-size="6.7" text-anchor="end" font-weight="normal" font-style="normal" fill="#181818" >0</text>
<line x1="418.20" y1="304.82" x2="420.00" y2="304.82" stroke="#b4b4b4" stroke-width="0.7"/>
<text class="sm" x="417.50" y="307.42" font-size="6.7" text-anchor="end" font-weight="normal" font-style="normal" fill="#181818" >0.5</text>
<line x1="418.20" y1="289.63" x2="420.00" y2="289.63" stroke="#b4b4b4" stroke-width="0.7"/>
<text class="sm" x="417.50" y="292.23" font-size="6.7" text-anchor="end" font-weight="normal" font-style="normal" fill="#181818" >1.0</text>
<line x1="418.20" y1="274.45" x2="420.00" y2="274.45" stroke="#b4b4b4" stroke-width="0.7"/>
<text class="sm" x="417.50" y="277.05" font-size="6.7" text-anchor="end" font-weight="normal" font-style="normal" fill="#181818" >1.5</text>
<line x1="418.20" y1="259.27" x2="420.00" y2="259.27" stroke="#b4b4b4" stroke-width="0.7"/>
<text class="sm" x="417.50" y="261.87" font-size="6.7" text-anchor="end" font-weight="normal" font-style="normal" fill="#181818" >2.0</text>
<line x1="418.20" y1="244.08" x2="420.00" y2="244.08" stroke="#b4b4b4" stroke-width="0.7"/>
<text class="sm" x="417.50" y="246.68" font-size="6.7" text-anchor="end" font-weight="normal" font-style="normal" fill="#181818" >2.5</text>
<line x1="418.20" y1="228.90" x2="420.00" y2="228.90" stroke="#b4b4b4" stroke-width="0.7"/>
<text class="sm" x="417.50" y="231.50" font-size="6.7" text-anchor="end" font-weight="normal" font-style="normal" fill="#181818" >3.0</text>
<line x1="444.43" y1="320.00" x2="444.43" y2="321.50" stroke="#b4b4b4" stroke-width="0.7"/>
<line x1="468.85" y1="320.00" x2="468.85" y2="321.50" stroke="#b4b4b4" stroke-width="0.7"/>
<line x1="493.28" y1="320.00" x2="493.28" y2="321.50" stroke="#b4b4b4" stroke-width="0.7"/>
<line x1="517.70" y1="320.00" x2="517.70" y2="321.50" stroke="#b4b4b4" stroke-width="0.7"/>
<path d="M424.80,320.00 V289.63 H432.00 V320.00" fill="#fff" stroke="#9c9c9c" stroke-width="0.8"/>
<rect x="432.00" y="258.36" width="7.20" height="61.64" fill="#000" stroke="none" stroke-width="0.6" />
<line x1="435.60" y1="258.36" x2="435.60" y2="253.50" stroke="#666" stroke-width="0.75"/>
<line x1="434.50" y1="253.50" x2="436.70" y2="253.50" stroke="#777" stroke-width="0.7"/>
<polyline points="428.40,284.63 428.40,233.80 435.30,233.80 435.30,253.00" fill="none" stroke="#7d7d7d" stroke-width="0.7"/>
<text x="432.05" y="234.60" font-size="8.5" text-anchor="middle" font-weight="bold" font-style="normal" fill="#111" class="st">*</text>
<text x="432.00" y="329.80" font-size="9.2" text-anchor="middle" font-weight="normal" font-style="normal" fill="#111" textLength="16.1" lengthAdjust="spacingAndGlyphs">B36</text>
<path d="M449.23,320.00 V289.63 H456.43 V320.00" fill="#fff" stroke="#9c9c9c" stroke-width="0.8"/>
<rect x="456.43" y="248.03" width="7.20" height="71.97" fill="#000" stroke="none" stroke-width="0.6" />
<line x1="460.03" y1="248.03" x2="460.03" y2="241.35" stroke="#666" stroke-width="0.75"/>
<line x1="458.93" y1="241.35" x2="461.13" y2="241.35" stroke="#777" stroke-width="0.7"/>
<polyline points="452.83,284.63 452.83,233.80 459.73,233.80 459.73,240.85" fill="none" stroke="#7d7d7d" stroke-width="0.7"/>
<text x="456.48" y="234.60" font-size="8.5" text-anchor="middle" font-weight="bold" font-style="normal" fill="#111" class="st">*</text>
<text x="456.43" y="329.80" font-size="9.2" text-anchor="middle" font-weight="normal" font-style="normal" fill="#111" textLength="16.1" lengthAdjust="spacingAndGlyphs">B37</text>
<path d="M473.66,320.00 V289.63 H480.86 V320.00" fill="#fff" stroke="#9c9c9c" stroke-width="0.8"/>
<rect x="480.86" y="248.03" width="7.20" height="71.97" fill="#000" stroke="none" stroke-width="0.6" />
<line x1="484.46" y1="248.03" x2="484.46" y2="242.26" stroke="#666" stroke-width="0.75"/>
<line x1="483.36" y1="242.26" x2="485.56" y2="242.26" stroke="#777" stroke-width="0.7"/>
<polyline points="477.26,284.63 477.26,233.80 484.16,233.80 484.16,241.76" fill="none" stroke="#7d7d7d" stroke-width="0.7"/>
<text x="480.91" y="234.60" font-size="8.5" text-anchor="middle" font-weight="bold" font-style="normal" fill="#111" class="st">*</text>
<text x="480.86" y="329.80" font-size="9.2" text-anchor="middle" font-weight="normal" font-style="normal" fill="#111" textLength="16.1" lengthAdjust="spacingAndGlyphs">B44</text>
<path d="M498.09,320.00 V289.63 H505.29 V320.00" fill="#fff" stroke="#9c9c9c" stroke-width="0.8"/>
<rect x="505.29" y="251.98" width="7.20" height="68.02" fill="#000" stroke="none" stroke-width="0.6" />
<line x1="508.89" y1="251.98" x2="508.89" y2="245.91" stroke="#666" stroke-width="0.75"/>
<line x1="507.79" y1="245.91" x2="509.99" y2="245.91" stroke="#777" stroke-width="0.7"/>
<polyline points="501.69,284.63 501.69,233.80 508.59,233.80 508.59,245.41" fill="none" stroke="#7d7d7d" stroke-width="0.7"/>
<text x="505.34" y="234.60" font-size="8.5" text-anchor="middle" font-weight="bold" font-style="normal" fill="#111" class="st">*</text>
<text x="505.29" y="329.80" font-size="9.2" text-anchor="middle" font-weight="normal" font-style="normal" fill="#111" textLength="16.1" lengthAdjust="spacingAndGlyphs">B47</text>
<line x1="423.70" y1="331.90" x2="515.70" y2="331.90" stroke="#262626" stroke-width="1.35"/>
<text x="470.40" y="341.40" font-size="9.2" text-anchor="middle" font-weight="normal" font-style="normal" fill="#111" textLength="16.3" lengthAdjust="spacingAndGlyphs">LCL</text>
<text class="yt" transform="translate(401.40,302.90) rotate(-90)" font-size="9.2" text-anchor="end" fill="#111" font-style="italic" textLength="41.0" lengthAdjust="spacingAndGlyphs">HLA-DRA</text>
<text class="yt" transform="translate(401.40,300.20) rotate(-90)" font-size="9.2" text-anchor="start" fill="#111" textLength="26.0" lengthAdjust="spacingAndGlyphs">mRNA</text>
<text class="yt" transform="translate(401.40,271.90) rotate(-90)" font-size="9.2" text-anchor="start" fill="#111" >relative</text>
<text class="yt" transform="translate(401.40,239.80) rotate(-90)" font-size="9.2" text-anchor="start" fill="#111" >fold</text>
<text x="383.90" y="200.20" font-size="11.2" text-anchor="start" font-weight="bold" font-style="normal" fill="#000" >F</text>
<rect x="99.40" y="374.10" width="4.30" height="3.40" fill="#fff" stroke="#3a3a3a" stroke-width="0.9" />
<rect x="99.50" y="382.15" width="4.50" height="3.80" fill="#000" stroke="none" stroke-width="0.6" />
<text x="106.00" y="378.00" font-size="9.3" text-anchor="start" font-weight="normal" font-style="normal" fill="#111" textLength="24.2" lengthAdjust="spacingAndGlyphs">shLuc</text>
<text x="106.00" y="386.40" font-size="9.3" text-anchor="start" font-weight="normal" font-style="normal" fill="#111" textLength="39.3" lengthAdjust="spacingAndGlyphs">shLMP2A</text>
<line x1="49.80" y1="394.60" x2="49.80" y2="481.75" stroke="#cdcdcd" stroke-width="0.8"/>
<line x1="48.00" y1="481.75" x2="145.90" y2="481.75" stroke="#b4b4b4" stroke-width="0.8"/>
<line x1="48.00" y1="481.75" x2="49.80" y2="481.75" stroke="#b4b4b4" stroke-width="0.7"/>
<text class="sm" x="47.40" y="484.35" font-size="6.7" text-anchor="end" font-weight="normal" font-style="normal" fill="#181818" >0</text>
<line x1="48.00" y1="469.30" x2="49.80" y2="469.30" stroke="#b4b4b4" stroke-width="0.7"/>
<text class="sm" x="47.40" y="471.90" font-size="6.7" text-anchor="end" font-weight="normal" font-style="normal" fill="#181818" >0.5</text>
<line x1="48.00" y1="456.85" x2="49.80" y2="456.85" stroke="#b4b4b4" stroke-width="0.7"/>
<text class="sm" x="47.40" y="459.45" font-size="6.7" text-anchor="end" font-weight="normal" font-style="normal" fill="#181818" >1.0</text>
<line x1="48.00" y1="444.40" x2="49.80" y2="444.40" stroke="#b4b4b4" stroke-width="0.7"/>
<text class="sm" x="47.40" y="447.00" font-size="6.7" text-anchor="end" font-weight="normal" font-style="normal" fill="#181818" >1.5</text>
<line x1="48.00" y1="431.95" x2="49.80" y2="431.95" stroke="#b4b4b4" stroke-width="0.7"/>
<text class="sm" x="47.40" y="434.55" font-size="6.7" text-anchor="end" font-weight="normal" font-style="normal" fill="#181818" >2.0</text>
<line x1="48.00" y1="419.50" x2="49.80" y2="419.50" stroke="#b4b4b4" stroke-width="0.7"/>
<text class="sm" x="47.40" y="422.10" font-size="6.7" text-anchor="end" font-weight="normal" font-style="normal" fill="#181818" >2.5</text>
<line x1="48.00" y1="407.05" x2="49.80" y2="407.05" stroke="#b4b4b4" stroke-width="0.7"/>
<text class="sm" x="47.40" y="409.65" font-size="6.7" text-anchor="end" font-weight="normal" font-style="normal" fill="#181818" >3.0</text>
<line x1="48.00" y1="394.60" x2="49.80" y2="394.60" stroke="#b4b4b4" stroke-width="0.7"/>
<text class="sm" x="47.40" y="397.20" font-size="6.7" text-anchor="end" font-weight="normal" font-style="normal" fill="#181818" >3.5</text>
<line x1="73.83" y1="481.75" x2="73.83" y2="483.25" stroke="#b4b4b4" stroke-width="0.7"/>
<line x1="97.85" y1="481.75" x2="97.85" y2="483.25" stroke="#b4b4b4" stroke-width="0.7"/>
<line x1="121.88" y1="481.75" x2="121.88" y2="483.25" stroke="#b4b4b4" stroke-width="0.7"/>
<line x1="145.90" y1="481.75" x2="145.90" y2="483.25" stroke="#b4b4b4" stroke-width="0.7"/>
<path d="M55.20,481.75 V456.85 H62.15 V481.75" fill="#fff" stroke="#9c9c9c" stroke-width="0.8"/>
<rect x="62.15" y="413.65" width="6.95" height="68.10" fill="#000" stroke="none" stroke-width="0.6" />
<line x1="65.62" y1="413.65" x2="65.62" y2="408.92" stroke="#666" stroke-width="0.75"/>
<line x1="64.53" y1="408.92" x2="66.72" y2="408.92" stroke="#777" stroke-width="0.7"/>
<polyline points="58.68,451.85 58.68,401.70 65.33,401.70 65.33,408.42" fill="none" stroke="#7d7d7d" stroke-width="0.7"/>
<text x="62.90" y="402.30" font-size="8.5" text-anchor="middle" font-weight="bold" font-style="normal" fill="#111" class="st" letter-spacing="1.4">**</text>
<text x="61.65" y="491.40" font-size="9.2" text-anchor="middle" font-weight="normal" font-style="normal" fill="#111" textLength="16.1" lengthAdjust="spacingAndGlyphs">B36</text>
<line x1="54.05" y1="492.70" x2="69.65" y2="492.70" stroke="#333" stroke-width="0.6"/>
<path d="M79.35,481.75 V456.85 H86.30 V481.75" fill="#fff" stroke="#9c9c9c" stroke-width="0.8"/>
<rect x="86.30" y="415.89" width="6.95" height="65.86" fill="#000" stroke="none" stroke-width="0.6" />
<line x1="89.77" y1="415.89" x2="89.77" y2="408.92" stroke="#666" stroke-width="0.75"/>
<line x1="88.67" y1="408.92" x2="90.87" y2="408.92" stroke="#777" stroke-width="0.7"/>
<polyline points="82.82,451.85 82.82,401.70 89.47,401.70 89.47,408.42" fill="none" stroke="#7d7d7d" stroke-width="0.7"/>
<text x="86.35" y="402.30" font-size="8.5" text-anchor="middle" font-weight="bold" font-style="normal" fill="#111" class="st">*</text>
<text x="85.80" y="491.40" font-size="9.2" text-anchor="middle" font-weight="normal" font-style="normal" fill="#111" textLength="16.1" lengthAdjust="spacingAndGlyphs">B37</text>
<line x1="78.20" y1="492.70" x2="93.80" y2="492.70" stroke="#333" stroke-width="0.6"/>
<path d="M103.50,481.75 V456.85 H110.45 V481.75" fill="#fff" stroke="#9c9c9c" stroke-width="0.8"/>
<rect x="110.45" y="416.39" width="6.95" height="65.36" fill="#000" stroke="none" stroke-width="0.6" />
<line x1="113.92" y1="416.39" x2="113.92" y2="409.91" stroke="#666" stroke-width="0.75"/>
<line x1="112.83" y1="409.91" x2="115.02" y2="409.91" stroke="#777" stroke-width="0.7"/>
<polyline points="106.97,451.85 106.97,401.70 113.62,401.70 113.62,409.41" fill="none" stroke="#7d7d7d" stroke-width="0.7"/>
<text x="110.50" y="402.30" font-size="8.5" text-anchor="middle" font-weight="bold" font-style="normal" fill="#111" class="st">*</text>
<text x="109.95" y="491.40" font-size="9.2" text-anchor="middle" font-weight="normal" font-style="normal" fill="#111" textLength="16.1" lengthAdjust="spacingAndGlyphs">B44</text>
<line x1="102.35" y1="492.70" x2="117.95" y2="492.70" stroke="#333" stroke-width="0.6"/>
<path d="M127.65,481.75 V456.85 H134.60 V481.75" fill="#fff" stroke="#9c9c9c" stroke-width="0.8"/>
<rect x="134.60" y="419.00" width="6.95" height="62.75" fill="#000" stroke="none" stroke-width="0.6" />
<line x1="138.07" y1="419.00" x2="138.07" y2="415.76" stroke="#666" stroke-width="0.75"/>
<line x1="136.97" y1="415.76" x2="139.17" y2="415.76" stroke="#777" stroke-width="0.7"/>
<polyline points="131.12,451.85 131.12,401.70 137.77,401.70 137.77,415.26" fill="none" stroke="#7d7d7d" stroke-width="0.7"/>
<text x="134.65" y="402.30" font-size="8.5" text-anchor="middle" font-weight="bold" font-style="normal" fill="#111" class="st">*</text>
<text x="134.10" y="491.40" font-size="9.2" text-anchor="middle" font-weight="normal" font-style="normal" fill="#111" textLength="16.1" lengthAdjust="spacingAndGlyphs">B47</text>
<line x1="126.50" y1="492.70" x2="142.10" y2="492.70" stroke="#333" stroke-width="0.6"/>
<line x1="51.60" y1="493.80" x2="144.50" y2="493.80" stroke="#262626" stroke-width="1.35"/>
<text x="98.20" y="503.30" font-size="9.2" text-anchor="middle" font-weight="normal" font-style="normal" fill="#111" textLength="16.3" lengthAdjust="spacingAndGlyphs">LCL</text>
<text class="yt" transform="translate(29.60,462.40) rotate(-90)" font-size="9.2" text-anchor="end" fill="#111" font-style="italic" textLength="40.1" lengthAdjust="spacingAndGlyphs">HLA-DRB</text>
<text class="yt" transform="translate(29.60,460.00) rotate(-90)" font-size="9.2" text-anchor="start" fill="#111" textLength="26.0" lengthAdjust="spacingAndGlyphs">mRNA</text>
<text class="yt" transform="translate(29.60,431.80) rotate(-90)" font-size="9.2" text-anchor="start" fill="#111" >relative</text>
<text class="yt" transform="translate(29.60,399.70) rotate(-90)" font-size="9.2" text-anchor="start" fill="#111" >fold</text>
<text x="0.25" y="365.00" font-size="11.2" text-anchor="start" font-weight="bold" font-style="normal" fill="#000" >G</text>
<rect x="250.40" y="373.90" width="4.30" height="3.40" fill="#fff" stroke="#3a3a3a" stroke-width="0.9" />
<rect x="250.50" y="382.05" width="4.50" height="3.80" fill="#000" stroke="none" stroke-width="0.6" />
<text x="257.50" y="377.80" font-size="9.3" text-anchor="start" font-weight="normal" font-style="normal" fill="#111" textLength="24.2" lengthAdjust="spacingAndGlyphs">shLuc</text>
<text x="257.50" y="386.30" font-size="9.3" text-anchor="start" font-weight="normal" font-style="normal" fill="#111" textLength="39.3" lengthAdjust="spacingAndGlyphs">shLMP2A</text>
<line x1="198.60" y1="390.80" x2="198.60" y2="479.30" stroke="#cdcdcd" stroke-width="0.8"/>
<line x1="196.80" y1="479.30" x2="296.20" y2="479.30" stroke="#b4b4b4" stroke-width="0.8"/>
<line x1="196.80" y1="479.30" x2="198.60" y2="479.30" stroke="#b4b4b4" stroke-width="0.7"/>
<text class="sm" x="194.60" y="481.90" font-size="6.7" text-anchor="end" font-weight="normal" font-style="normal" fill="#181818" >0</text>
<line x1="196.80" y1="466.66" x2="198.60" y2="466.66" stroke="#b4b4b4" stroke-width="0.7"/>
<text class="sm" x="194.60" y="469.26" font-size="6.7" text-anchor="end" font-weight="normal" font-style="normal" fill="#181818" >0.5</text>
<line x1="196.80" y1="454.01" x2="198.60" y2="454.01" stroke="#b4b4b4" stroke-width="0.7"/>
<text class="sm" x="194.60" y="456.61" font-size="6.7" text-anchor="end" font-weight="normal" font-style="normal" fill="#181818" >1.0</text>
<line x1="196.80" y1="441.37" x2="198.60" y2="441.37" stroke="#b4b4b4" stroke-width="0.7"/>
<text class="sm" x="194.60" y="443.97" font-size="6.7" text-anchor="end" font-weight="normal" font-style="normal" fill="#181818" >1.5</text>
<line x1="196.80" y1="428.73" x2="198.60" y2="428.73" stroke="#b4b4b4" stroke-width="0.7"/>
<text class="sm" x="194.60" y="431.33" font-size="6.7" text-anchor="end" font-weight="normal" font-style="normal" fill="#181818" >2.0</text>
<line x1="196.80" y1="416.09" x2="198.60" y2="416.09" stroke="#b4b4b4" stroke-width="0.7"/>
<text class="sm" x="194.60" y="418.69" font-size="6.7" text-anchor="end" font-weight="normal" font-style="normal" fill="#181818" >2.5</text>
<line x1="196.80" y1="403.44" x2="198.60" y2="403.44" stroke="#b4b4b4" stroke-width="0.7"/>
<text class="sm" x="194.60" y="406.04" font-size="6.7" text-anchor="end" font-weight="normal" font-style="normal" fill="#181818" >3.0</text>
<line x1="196.80" y1="390.80" x2="198.60" y2="390.80" stroke="#b4b4b4" stroke-width="0.7"/>
<text class="sm" x="194.60" y="393.40" font-size="6.7" text-anchor="end" font-weight="normal" font-style="normal" fill="#181818" >3.5</text>
<line x1="223.00" y1="479.30" x2="223.00" y2="480.80" stroke="#b4b4b4" stroke-width="0.7"/>
<line x1="247.40" y1="479.30" x2="247.40" y2="480.80" stroke="#b4b4b4" stroke-width="0.7"/>
<line x1="271.80" y1="479.30" x2="271.80" y2="480.80" stroke="#b4b4b4" stroke-width="0.7"/>
<line x1="296.20" y1="479.30" x2="296.20" y2="480.80" stroke="#b4b4b4" stroke-width="0.7"/>
<path d="M203.40,479.30 V454.01 H210.50 V479.30" fill="#fff" stroke="#9c9c9c" stroke-width="0.8"/>
<rect x="210.50" y="415.58" width="7.10" height="63.72" fill="#000" stroke="none" stroke-width="0.6" />
<line x1="214.05" y1="415.58" x2="214.05" y2="412.55" stroke="#666" stroke-width="0.75"/>
<line x1="212.95" y1="412.55" x2="215.15" y2="412.55" stroke="#777" stroke-width="0.7"/>
<polyline points="206.95,449.01 206.95,399.60 213.75,399.60 213.75,412.05" fill="none" stroke="#7d7d7d" stroke-width="0.7"/>
<text x="210.55" y="399.90" font-size="8.5" text-anchor="middle" font-weight="bold" font-style="normal" fill="#111" class="st">*</text>
<text x="210.00" y="489.00" font-size="9.2" text-anchor="middle" font-weight="normal" font-style="normal" fill="#111" textLength="16.1" lengthAdjust="spacingAndGlyphs">B36</text>
<line x1="202.40" y1="490.30" x2="218.00" y2="490.30" stroke="#333" stroke-width="0.6"/>
<path d="M227.80,479.30 V454.01 H234.90 V479.30" fill="#fff" stroke="#9c9c9c" stroke-width="0.8"/>
<rect x="234.90" y="409.76" width="7.10" height="69.54" fill="#000" stroke="none" stroke-width="0.6" />
<line x1="238.45" y1="409.76" x2="238.45" y2="402.94" stroke="#666" stroke-width="0.75"/>
<line x1="237.35" y1="402.94" x2="239.55" y2="402.94" stroke="#777" stroke-width="0.7"/>
<polyline points="231.35,449.01 231.35,399.60 238.15,399.60 238.15,402.44" fill="none" stroke="#7d7d7d" stroke-width="0.7"/>
<text x="235.65" y="399.90" font-size="8.5" text-anchor="middle" font-weight="bold" font-style="normal" fill="#111" class="st" letter-spacing="1.4">**</text>
<text x="234.40" y="489.00" font-size="9.2" text-anchor="middle" font-weight="normal" font-style="normal" fill="#111" textLength="16.1" lengthAdjust="spacingAndGlyphs">B37</text>
<line x1="226.80" y1="490.30" x2="242.40" y2="490.30" stroke="#333" stroke-width="0.6"/>
<path d="M252.20,479.30 V454.01 H259.30 V479.30" fill="#fff" stroke="#9c9c9c" stroke-width="0.8"/>
<rect x="259.30" y="424.68" width="7.10" height="54.62" fill="#000" stroke="none" stroke-width="0.6" />
<line x1="262.85" y1="424.68" x2="262.85" y2="422.15" stroke="#666" stroke-width="0.75"/>
<line x1="261.75" y1="422.15" x2="263.95" y2="422.15" stroke="#777" stroke-width="0.7"/>
<polyline points="255.75,449.01 255.75,399.60 262.55,399.60 262.55,421.65" fill="none" stroke="#7d7d7d" stroke-width="0.7"/>
<text x="259.35" y="399.90" font-size="8.5" text-anchor="middle" font-weight="bold" font-style="normal" fill="#111" class="st">*</text>
<text x="258.80" y="489.00" font-size="9.2" text-anchor="middle" font-weight="normal" font-style="normal" fill="#111" textLength="16.1" lengthAdjust="spacingAndGlyphs">B44</text>
<line x1="251.20" y1="490.30" x2="266.80" y2="490.30" stroke="#333" stroke-width="0.6"/>
<path d="M276.60,479.30 V454.01 H283.70 V479.30" fill="#fff" stroke="#9c9c9c" stroke-width="0.8"/>
<rect x="283.70" y="406.98" width="7.10" height="72.32" fill="#000" stroke="none" stroke-width="0.6" />
<line x1="287.25" y1="406.98" x2="287.25" y2="403.19" stroke="#666" stroke-width="0.75"/>
<line x1="286.15" y1="403.19" x2="288.35" y2="403.19" stroke="#777" stroke-width="0.7"/>
<polyline points="280.15,449.01 280.15,399.60 286.95,399.60 286.95,402.69" fill="none" stroke="#7d7d7d" stroke-width="0.7"/>
<text x="284.45" y="399.90" font-size="8.5" text-anchor="middle" font-weight="bold" font-style="normal" fill="#111" class="st" letter-spacing="1.4">**</text>
<text x="283.20" y="489.00" font-size="9.2" text-anchor="middle" font-weight="normal" font-style="normal" fill="#111" textLength="16.1" lengthAdjust="spacingAndGlyphs">B47</text>
<line x1="275.60" y1="490.30" x2="291.20" y2="490.30" stroke="#333" stroke-width="0.6"/>
<line x1="200.60" y1="492.30" x2="293.60" y2="492.30" stroke="#262626" stroke-width="1.35"/>
<text x="247.40" y="501.20" font-size="9.2" text-anchor="middle" font-weight="normal" font-style="normal" fill="#111" textLength="16.3" lengthAdjust="spacingAndGlyphs">LCL</text>
<text class="yt" transform="translate(177.80,463.30) rotate(-90)" font-size="9.2" text-anchor="end" fill="#111" font-style="italic" textLength="22.0" lengthAdjust="spacingAndGlyphs">CD74</text>
<text class="yt" transform="translate(177.80,460.00) rotate(-90)" font-size="9.2" text-anchor="start" fill="#111" textLength="26.0" lengthAdjust="spacingAndGlyphs">mRNA</text>
<text class="yt" transform="translate(177.80,431.80) rotate(-90)" font-size="9.2" text-anchor="start" fill="#111" >relative</text>
<text class="yt" transform="translate(177.80,399.70) rotate(-90)" font-size="9.2" text-anchor="start" fill="#111" >fold</text>
<text x="162.20" y="365.00" font-size="11.2" text-anchor="start" font-weight="bold" font-style="normal" fill="#000" >H</text>
<text x="0.90" y="9.10" font-size="11.2" text-anchor="start" font-weight="bold" font-style="normal" fill="#000" >A</text>
<text transform="translate(35.10,69.30) rotate(-90)" font-size="8.8" text-anchor="start" fill="#111" textLength="58.8" lengthAdjust="spacingAndGlyphs">uninfected B36</text>
<text transform="translate(47.20,69.30) rotate(-90)" font-size="8.8" text-anchor="start" fill="#111" textLength="32.7" lengthAdjust="spacingAndGlyphs">LCL B36</text>
<text transform="translate(60.20,69.30) rotate(-90)" font-size="8.8" text-anchor="start" fill="#111" textLength="58.8" lengthAdjust="spacingAndGlyphs">uninfected B37</text>
<text transform="translate(74.10,69.30) rotate(-90)" font-size="8.8" text-anchor="start" fill="#111" textLength="32.7" lengthAdjust="spacingAndGlyphs">LCL B37</text>
<text transform="translate(87.00,69.30) rotate(-90)" font-size="8.8" text-anchor="start" fill="#111" textLength="58.8" lengthAdjust="spacingAndGlyphs">uninfected B44</text>
<text transform="translate(100.20,69.30) rotate(-90)" font-size="8.8" text-anchor="start" fill="#111" textLength="32.7" lengthAdjust="spacingAndGlyphs">LCL B44</text>
<text transform="translate(113.60,69.30) rotate(-90)" font-size="8.8" text-anchor="start" fill="#111" textLength="58.8" lengthAdjust="spacingAndGlyphs">uninfected B47</text>
<text transform="translate(126.90,69.30) rotate(-90)" font-size="8.8" text-anchor="start" fill="#111" textLength="32.7" lengthAdjust="spacingAndGlyphs">LCL B47</text>
<rect x="26.00" y="74.70" width="107.50" height="12.90" fill="#dcdcdc" stroke="none" stroke-width="0.6" />
<rect x="26.00" y="90.60" width="107.50" height="14.80" fill="#e8e8e8" stroke="none" stroke-width="0.6" />
<rect x="26.00" y="107.50" width="107.50" height="13.30" fill="#f3f3f3" stroke="none" stroke-width="0.6" />
<rect x="26.00" y="145.70" width="107.50" height="12.00" fill="#dcdcdc" stroke="none" stroke-width="0.6" />
<rect x="39.20" y="79.90" width="10.00" height="2.00" rx="1.00" fill="#000" opacity="0.85" filter="url(#b1)"/>
<rect x="66.40" y="79.40" width="10.00" height="3.00" rx="1.20" fill="#000" opacity="1" filter="url(#b1)"/>
<rect x="93.30" y="79.40" width="10.00" height="3.00" rx="1.20" fill="#000" opacity="1" filter="url(#b1)"/>
<rect x="120.30" y="79.60" width="10.00" height="2.60" rx="1.20" fill="#000" opacity="0.95" filter="url(#b1)"/>
<rect x="39.30" y="96.60" width="10.40" height="2.60" rx="1.20" fill="#000" opacity="0.95" filter="url(#b1)"/>
<rect x="40.00" y="100.20" width="9.00" height="1.20" rx="0.60" fill="#000" opacity="0.35" filter="url(#b1)"/>
<rect x="66.50" y="95.80" width="10.40" height="5.40" rx="1.20" fill="#000" opacity="1" filter="url(#b1)"/>
<rect x="66.90" y="102.10" width="9.60" height="1.20" rx="0.60" fill="#000" opacity="0.5" filter="url(#b1)"/>
<rect x="67.20" y="104.00" width="9.00" height="1.00" rx="0.50" fill="#000" opacity="0.4" filter="url(#b1)"/>
<rect x="93.40" y="95.70" width="10.40" height="2.80" rx="1.20" fill="#000" opacity="0.38" filter="url(#b1)"/>
<rect x="120.40" y="96.40" width="10.40" height="3.00" rx="1.20" fill="#000" opacity="0.9" filter="url(#b1)"/>
<rect x="121.10" y="100.20" width="9.00" height="1.20" rx="0.60" fill="#000" opacity="0.35" filter="url(#b1)"/>
<rect x="40.05" y="112.65" width="9.30" height="2.30" rx="1.15" fill="#000" opacity="0.95" filter="url(#b1)"/>
<rect x="40.70" y="117.10" width="8.00" height="1.40" rx="0.70" fill="#000" opacity="0.1" filter="url(#b1)"/>
<rect x="67.25" y="112.65" width="9.30" height="2.30" rx="1.15" fill="#000" opacity="0.85" filter="url(#b1)"/>
<rect x="67.90" y="117.10" width="8.00" height="1.40" rx="0.70" fill="#000" opacity="0.1" filter="url(#b1)"/>
<rect x="94.15" y="112.65" width="9.30" height="2.30" rx="1.15" fill="#000" opacity="0.9" filter="url(#b1)"/>
<rect x="94.80" y="117.10" width="8.00" height="1.40" rx="0.70" fill="#000" opacity="0.1" filter="url(#b1)"/>
<rect x="121.15" y="112.65" width="9.30" height="2.30" rx="1.15" fill="#000" opacity="0.85" filter="url(#b1)"/>
<rect x="121.80" y="117.10" width="8.00" height="1.40" rx="0.70" fill="#000" opacity="0.1" filter="url(#b1)"/>
<rect x="26.25" y="126.20" width="10.30" height="2.60" rx="1.20" fill="#000" opacity="0.95" filter="url(#b1)"/>
<rect x="26.40" y="129.95" width="10.00" height="2.10" rx="1.05" fill="#000" opacity="0.85" filter="url(#b1)"/>
<rect x="53.65" y="126.20" width="10.30" height="2.60" rx="1.20" fill="#000" opacity="0.95" filter="url(#b1)"/>
<rect x="53.80" y="129.95" width="10.00" height="2.10" rx="1.05" fill="#000" opacity="0.85" filter="url(#b1)"/>
<rect x="80.65" y="126.20" width="10.30" height="2.60" rx="1.20" fill="#000" opacity="0.95" filter="url(#b1)"/>
<rect x="80.80" y="129.95" width="10.00" height="2.10" rx="1.05" fill="#000" opacity="0.85" filter="url(#b1)"/>
<rect x="107.45" y="126.20" width="10.30" height="2.60" rx="1.20" fill="#000" opacity="0.95" filter="url(#b1)"/>
<rect x="107.60" y="129.95" width="10.00" height="2.10" rx="1.05" fill="#000" opacity="0.85" filter="url(#b1)"/>
<rect x="26.90" y="151.50" width="9.40" height="3.00" rx="1.20" fill="#000" opacity="0.9" filter="url(#b1)"/>
<rect x="27.30" y="149.10" width="8.60" height="1.80" rx="0.90" fill="#000" opacity="0.27" filter="url(#b2)"/>
<rect x="54.30" y="151.70" width="9.40" height="2.60" rx="1.20" fill="#000" opacity="0.75" filter="url(#b1)"/>
<rect x="54.70" y="149.10" width="8.60" height="1.80" rx="0.90" fill="#000" opacity="0.09" filter="url(#b2)"/>
<rect x="81.30" y="152.00" width="9.40" height="2.00" rx="1.00" fill="#000" opacity="0.6" filter="url(#b1)"/>
<rect x="81.70" y="149.10" width="8.60" height="1.80" rx="0.90" fill="#000" opacity="0.18" filter="url(#b2)"/>
<rect x="108.10" y="152.00" width="9.40" height="2.00" rx="1.00" fill="#000" opacity="0.62" filter="url(#b1)"/>
<rect x="108.50" y="149.10" width="8.60" height="1.80" rx="0.90" fill="#000" opacity="0.186" filter="url(#b2)"/>
<rect x="26.60" y="172.85" width="10.60" height="2.90" rx="1.20" fill="#000" opacity="1.0" filter="url(#b1)"/>
<rect x="39.90" y="173.20" width="9.20" height="2.20" rx="1.10" fill="#000" opacity="1.0" filter="url(#b1)"/>
<rect x="54.00" y="172.85" width="10.60" height="2.90" rx="1.20" fill="#000" opacity="1.0" filter="url(#b1)"/>
<rect x="67.10" y="173.20" width="9.20" height="2.20" rx="1.10" fill="#000" opacity="1.0" filter="url(#b1)"/>
<rect x="81.00" y="173.20" width="10.60" height="2.20" rx="1.10" fill="#000" opacity="1.0" filter="url(#b1)"/>
<rect x="94.00" y="173.20" width="9.20" height="2.20" rx="1.10" fill="#000" opacity="1.0" filter="url(#b1)"/>
<rect x="107.80" y="172.85" width="10.60" height="2.90" rx="1.20" fill="#000" opacity="1.0" filter="url(#b1)"/>
<rect x="121.00" y="172.85" width="9.20" height="2.90" rx="1.20" fill="#000" opacity="1.0" filter="url(#b1)"/>
<text x="136.80" y="84.10" font-size="9" text-anchor="start" font-weight="normal" font-style="normal" fill="#111" >EBNA1</text>
<text x="136.80" y="101.00" font-size="9" text-anchor="start" font-weight="normal" font-style="normal" fill="#111" >LMP1</text>
<text x="136.80" y="116.90" font-size="9" text-anchor="start" font-weight="normal" font-style="normal" fill="#111" >LMP2A</text>
<text x="136.80" y="131.30" font-size="9" text-anchor="start" font-weight="normal" font-style="normal" fill="#111" >E47</text>
<text x="136.80" y="154.60" font-size="9" text-anchor="start" font-weight="normal" font-style="normal" fill="#111" >PU.1</text>
<text x="136.80" y="176.70" font-size="9" text-anchor="start" font-weight="normal" font-style="normal" fill="#111" >β-actin</text>
<text class="sm" x="10.00" y="142.00" font-size="6.4" text-anchor="start" font-weight="normal" font-style="normal" fill="#181818" >Fold</text>
<text class="sm" x="31.80" y="142.00" font-size="6.7" text-anchor="middle" font-weight="normal" font-style="normal" fill="#181818" >1.0</text>
<text class="sm" x="44.40" y="142.00" font-size="6.7" text-anchor="middle" font-weight="normal" font-style="normal" fill="#181818" >0.1</text>
<text class="sm" x="59.20" y="142.00" font-size="6.7" text-anchor="middle" font-weight="normal" font-style="normal" fill="#181818" >1.0</text>
<text class="sm" x="71.60" y="142.00" font-size="6.7" text-anchor="middle" font-weight="normal" font-style="normal" fill="#181818" >0.1</text>
<text class="sm" x="86.20" y="142.00" font-size="6.7" text-anchor="middle" font-weight="normal" font-style="normal" fill="#181818" >1.0</text>
<text class="sm" x="98.50" y="142.00" font-size="6.7" text-anchor="middle" font-weight="normal" font-style="normal" fill="#181818" >0.1</text>
<text class="sm" x="113.00" y="142.00" font-size="6.7" text-anchor="middle" font-weight="normal" font-style="normal" fill="#181818" >1.0</text>
<text class="sm" x="125.50" y="142.00" font-size="6.7" text-anchor="middle" font-weight="normal" font-style="normal" fill="#181818" >0.1</text>
<text class="sm" x="10.00" y="167.00" font-size="6.4" text-anchor="start" font-weight="normal" font-style="normal" fill="#181818" >Fold</text>
<text class="sm" x="31.80" y="167.00" font-size="6.7" text-anchor="middle" font-weight="normal" font-style="normal" fill="#181818" >1.0</text>
<text class="sm" x="44.40" y="167.00" font-size="6.7" text-anchor="middle" font-weight="normal" font-style="normal" fill="#181818" >0.1</text>
<text class="sm" x="59.20" y="167.00" font-size="6.7" text-anchor="middle" font-weight="normal" font-style="normal" fill="#181818" >1.0</text>
<text class="sm" x="71.60" y="167.00" font-size="6.7" text-anchor="middle" font-weight="normal" font-style="normal" fill="#181818" >0.2</text>
<text class="sm" x="86.20" y="167.00" font-size="6.7" text-anchor="middle" font-weight="normal" font-style="normal" fill="#181818" >1.0</text>
<text class="sm" x="98.50" y="167.00" font-size="6.7" text-anchor="middle" font-weight="normal" font-style="normal" fill="#181818" >0.2</text>
<text class="sm" x="113.00" y="167.00" font-size="6.7" text-anchor="middle" font-weight="normal" font-style="normal" fill="#181818" >1.0</text>
<text class="sm" x="125.50" y="167.00" font-size="6.7" text-anchor="middle" font-weight="normal" font-style="normal" fill="#181818" >0.2</text>
<text x="327.80" y="365.40" font-size="11.2" text-anchor="start" font-weight="bold" font-style="normal" fill="#000" >I</text>
<text x="439.70" y="372.30" font-size="8.8" text-anchor="middle" font-weight="normal" font-style="normal" fill="#111" >LCL</text>
<line x1="415.40" y1="375.00" x2="464.00" y2="375.00" stroke="#222" stroke-width="1.1"/>
<text x="329.80" y="384.70" font-size="9" text-anchor="start" font-weight="normal" font-style="normal" fill="#111" textLength="40.9" lengthAdjust="spacingAndGlyphs">pLKO-neo</text>
<line x1="416.45" y1="381.90" x2="423.25" y2="381.90" stroke="#2a2a2a" stroke-width="0.8"/>
<line x1="419.85" y1="378.50" x2="419.85" y2="385.30" stroke="#2a2a2a" stroke-width="0.8"/>
<line x1="429.30" y1="381.90" x2="436.10" y2="381.90" stroke="#2a2a2a" stroke-width="0.8"/>
<line x1="442.40" y1="381.90" x2="449.20" y2="381.90" stroke="#2a2a2a" stroke-width="0.8"/>
<line x1="445.80" y1="378.50" x2="445.80" y2="385.30" stroke="#2a2a2a" stroke-width="0.8"/>
<line x1="455.20" y1="381.90" x2="462.00" y2="381.90" stroke="#2a2a2a" stroke-width="0.8"/>
<text x="329.80" y="394.60" font-size="9" text-anchor="start" font-weight="normal" font-style="normal" fill="#111" textLength="64.7" lengthAdjust="spacingAndGlyphs">pLKO-PU.1-neo</text>
<line x1="416.45" y1="391.80" x2="423.25" y2="391.80" stroke="#2a2a2a" stroke-width="0.8"/>
<line x1="429.30" y1="391.80" x2="436.10" y2="391.80" stroke="#2a2a2a" stroke-width="0.8"/>
<line x1="432.70" y1="388.40" x2="432.70" y2="395.20" stroke="#2a2a2a" stroke-width="0.8"/>
<line x1="442.40" y1="391.80" x2="449.20" y2="391.80" stroke="#2a2a2a" stroke-width="0.8"/>
<line x1="455.20" y1="391.80" x2="462.00" y2="391.80" stroke="#2a2a2a" stroke-width="0.8"/>
<line x1="458.60" y1="388.40" x2="458.60" y2="395.20" stroke="#2a2a2a" stroke-width="0.8"/>
<text x="329.80" y="404.80" font-size="9" text-anchor="start" font-weight="normal" font-style="normal" fill="#111" textLength="43.9" lengthAdjust="spacingAndGlyphs">pLKO-puro</text>
<line x1="416.45" y1="402.00" x2="423.25" y2="402.00" stroke="#2a2a2a" stroke-width="0.8"/>
<line x1="419.85" y1="398.60" x2="419.85" y2="405.40" stroke="#2a2a2a" stroke-width="0.8"/>
<line x1="429.30" y1="402.00" x2="436.10" y2="402.00" stroke="#2a2a2a" stroke-width="0.8"/>
<line x1="432.70" y1="398.60" x2="432.70" y2="405.40" stroke="#2a2a2a" stroke-width="0.8"/>
<line x1="442.40" y1="402.00" x2="449.20" y2="402.00" stroke="#2a2a2a" stroke-width="0.8"/>
<line x1="455.20" y1="402.00" x2="462.00" y2="402.00" stroke="#2a2a2a" stroke-width="0.8"/>
<text x="329.80" y="415.50" font-size="9" text-anchor="start" font-weight="normal" font-style="normal" fill="#111" textLength="79" lengthAdjust="spacingAndGlyphs">pLKO-FD-E47-puro</text>
<line x1="416.45" y1="412.70" x2="423.25" y2="412.70" stroke="#2a2a2a" stroke-width="0.8"/>
<line x1="429.30" y1="412.70" x2="436.10" y2="412.70" stroke="#2a2a2a" stroke-width="0.8"/>
<line x1="442.40" y1="412.70" x2="449.20" y2="412.70" stroke="#2a2a2a" stroke-width="0.8"/>
<line x1="445.80" y1="409.30" x2="445.80" y2="416.10" stroke="#2a2a2a" stroke-width="0.8"/>
<line x1="455.20" y1="412.70" x2="462.00" y2="412.70" stroke="#2a2a2a" stroke-width="0.8"/>
<line x1="458.60" y1="409.30" x2="458.60" y2="416.10" stroke="#2a2a2a" stroke-width="0.8"/>
<linearGradient id="gm" x1="0" x2="1" y1="0" y2="0"><stop offset="0" stop-color="#ebebeb"/><stop offset="0.6" stop-color="#dedede"/><stop offset="1" stop-color="#cfcfcf"/></linearGradient>
<rect x="413.75" y="431.30" width="52.50" height="10.50" fill="#f8f8f8" stroke="none" stroke-width="0.6" />
<rect x="413.75" y="462.20" width="52.50" height="7.90" fill="url(#gm)" stroke="none" stroke-width="0.6" />
<rect x="442.30" y="421.85" width="9.80" height="2.50" rx="1.20" fill="#000" opacity="1.0" filter="url(#b1)"/>
<rect x="454.30" y="421.85" width="10.60" height="2.50" rx="1.20" fill="#000" opacity="1.0" filter="url(#b1)"/>
<rect x="417.10" y="435.25" width="9.40" height="1.50" rx="0.75" fill="#000" opacity="0.4" filter="url(#b2)"/>
<rect x="417.10" y="438.35" width="9.40" height="1.30" rx="0.65" fill="#000" opacity="0.35" filter="url(#b2)"/>
<rect x="428.30" y="434.00" width="10.60" height="4.20" rx="1.20" fill="#000" opacity="1.0" filter="url(#b1)"/>
<rect x="428.60" y="431.90" width="10.00" height="1.80" rx="0.90" fill="#000" opacity="0.35" filter="url(#b2)"/>
<rect x="442.70" y="435.55" width="9.00" height="1.30" rx="0.65" fill="#000" opacity="0.28" filter="url(#b2)"/>
<rect x="442.70" y="438.70" width="9.00" height="1.00" rx="0.50" fill="#000" opacity="0.25" filter="url(#b2)"/>
<rect x="454.50" y="435.00" width="10.20" height="3.20" rx="1.20" fill="#000" opacity="0.95" filter="url(#b1)"/>
<rect x="454.70" y="432.30" width="9.80" height="1.60" rx="0.80" fill="#000" opacity="0.5" filter="url(#b2)"/>
<rect x="428.60" y="439.70" width="10.00" height="1.00" rx="0.50" fill="#000" opacity="0.2" filter="url(#b2)"/>
<rect x="454.80" y="439.70" width="9.60" height="1.00" rx="0.50" fill="#000" opacity="0.3" filter="url(#b2)"/>
<rect x="416.90" y="447.40" width="9.80" height="1.80" rx="0.90" fill="#000" opacity="0.55" filter="url(#b1)"/>
<rect x="428.70" y="446.90" width="9.80" height="2.80" rx="1.20" fill="#000" opacity="0.9" filter="url(#b1)"/>
<rect x="442.30" y="446.90" width="9.80" height="2.80" rx="1.20" fill="#000" opacity="0.9" filter="url(#b1)"/>
<rect x="454.30" y="446.60" width="10.60" height="3.40" rx="1.20" fill="#000" opacity="1.0" filter="url(#b1)"/>
<rect x="416.70" y="465.20" width="10.20" height="2.00" rx="1.00" fill="#000" opacity="0.2" filter="url(#b2)"/>
<rect x="428.50" y="465.00" width="10.20" height="2.40" rx="1.20" fill="#000" opacity="0.45" filter="url(#b2)"/>
<rect x="442.10" y="465.00" width="10.20" height="2.40" rx="1.20" fill="#000" opacity="0.45" filter="url(#b2)"/>
<rect x="454.50" y="464.70" width="10.20" height="3.00" rx="1.20" fill="#000" opacity="1.0" filter="url(#b1)"/>
<rect x="416.85" y="483.10" width="9.10" height="2.00" rx="1.00" fill="#000" opacity="0.95" filter="url(#b1)"/>
<rect x="429.05" y="483.10" width="9.10" height="2.00" rx="1.00" fill="#000" opacity="0.95" filter="url(#b1)"/>
<rect x="442.20" y="483.10" width="9.10" height="2.00" rx="1.00" fill="#000" opacity="0.95" filter="url(#b1)"/>
<rect x="454.85" y="483.10" width="9.10" height="2.00" rx="1.00" fill="#000" opacity="0.95" filter="url(#b1)"/>
<rect x="416.50" y="492.90" width="10.00" height="3.00" rx="1.20" fill="#000" opacity="1.0" filter="url(#b1)"/>
<rect x="429.00" y="492.90" width="10.00" height="3.00" rx="1.20" fill="#000" opacity="1.0" filter="url(#b1)"/>
<rect x="441.90" y="492.90" width="10.00" height="3.00" rx="1.20" fill="#000" opacity="1.0" filter="url(#b1)"/>
<rect x="454.75" y="492.90" width="10.00" height="3.00" rx="1.20" fill="#000" opacity="1.0" filter="url(#b1)"/>
<text x="468.70" y="426.40" font-size="9" text-anchor="start" font-weight="normal" font-style="normal" fill="#111" >FD-E47</text>
<text x="468.70" y="439.00" font-size="9" text-anchor="start" font-weight="normal" font-style="normal" fill="#111" >PU.1</text>
<text x="468.70" y="451.30" font-size="9" text-anchor="start" font-weight="normal" font-style="normal" fill="#111" >CD74</text>
<text x="468.70" y="468.80" font-size="9" text-anchor="start" font-weight="normal" font-style="normal" fill="#111" >MHC class II</text>
<text x="468.70" y="487.00" font-size="9" text-anchor="start" font-weight="normal" font-style="normal" fill="#111" >LMP2A</text>
<text x="468.70" y="497.20" font-size="9" text-anchor="start" font-weight="normal" font-style="normal" fill="#111" >β-actin</text>
<text class="sm" x="397.00" y="459.50" font-size="6.4" text-anchor="start" font-weight="normal" font-style="normal" fill="#181818" >Fold</text>
<text class="sm" x="421.40" y="459.50" font-size="6.7" text-anchor="middle" font-weight="normal" font-style="normal" fill="#181818" >1.0</text>
<text class="sm" x="433.20" y="459.50" font-size="6.7" text-anchor="middle" font-weight="normal" font-style="normal" fill="#181818" >2.1</text>
<text class="sm" x="446.80" y="459.50" font-size="6.7" text-anchor="middle" font-weight="normal" font-style="normal" fill="#181818" >2.0</text>
<text class="sm" x="459.20" y="459.50" font-size="6.7" text-anchor="middle" font-weight="normal" font-style="normal" fill="#181818" >4.2</text>
<text class="sm" x="397.00" y="477.60" font-size="6.4" text-anchor="start" font-weight="normal" font-style="normal" fill="#181818" >Fold</text>
<text class="sm" x="421.40" y="477.60" font-size="6.7" text-anchor="middle" font-weight="normal" font-style="normal" fill="#181818" >1.0</text>
<text class="sm" x="433.20" y="477.60" font-size="6.7" text-anchor="middle" font-weight="normal" font-style="normal" fill="#181818" >1.9</text>
<text class="sm" x="446.80" y="477.60" font-size="6.7" text-anchor="middle" font-weight="normal" font-style="normal" fill="#181818" >2.2</text>
<text class="sm" x="459.20" y="477.60" font-size="6.7" text-anchor="middle" font-weight="normal" font-style="normal" fill="#181818" >4.1</text>
</svg>
</body></html>
